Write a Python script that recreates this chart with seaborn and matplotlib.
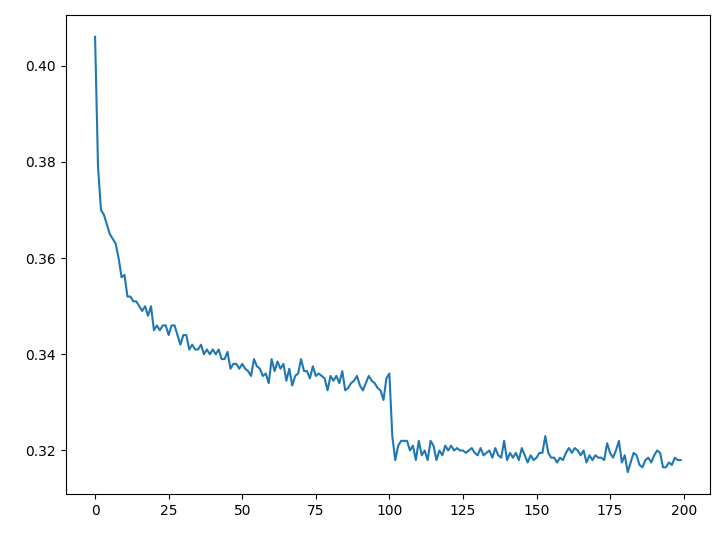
import numpy as np
import pandas as pd
import matplotlib
matplotlib.use("Agg")
import matplotlib.pyplot as plt
import seaborn as sns

# loss per epoch
loss_a = [0.406, 0.379, 0.370, 0.369, 0.367, 0.365, 0.364, 0.363, 0.360, 0.356,
          0.3565, 0.352, 0.352, 0.351, 0.351, 0.350, 0.349, 0.350, 0.348, 0.350,
          0.345, 0.346, 0.345, 0.346, 0.346, 0.344, 0.346, 0.346, 0.344, 0.342,
          0.344, 0.344, 0.341, 0.342, 0.341, 0.341, 0.342, 0.340, 0.341, 0.340,
          0.341, 0.340, 0.341, 0.339, 0.339, 0.3405, 0.337, 0.338, 0.338, 0.337,
          0.338, 0.337, 0.3365, 0.3355, 0.339, 0.3375, 0.337, 0.3355, 0.336, 0.334,
          0.339, 0.3365, 0.3385, 0.337, 0.338, 0.3345, 0.337, 0.3335, 0.3355, 0.336,
          0.339, 0.3365, 0.3365, 0.335, 0.3375, 0.3355, 0.336, 0.3355, 0.335, 0.3325,
          0.3355, 0.3345, 0.3355, 0.334, 0.3365, 0.3325, 0.333, 0.334, 0.3345, 0.3355,
          0.3335, 0.3325, 0.334, 0.3355, 0.3345, 0.334, 0.333, 0.3325, 0.3305, 0.335,
          0.336]
loss_b = [0.323, 0.318, 0.321, 0.322, 0.322, 0.322, 0.320, 0.321, 0.318,
          0.322, 0.319, 0.320, 0.318, 0.322, 0.321, 0.318, 0.320, 0.319, 0.321,
          0.320, 0.321, 0.320, 0.3205, 0.320, 0.320, 0.3195, 0.320, 0.3205, 0.3195,
          0.319, 0.3205, 0.319, 0.3195, 0.320, 0.3185, 0.3205, 0.319, 0.3185, 0.322,
          0.318, 0.3195, 0.3185, 0.3195, 0.318, 0.3205, 0.319, 0.3175, 0.319, 0.318,
          0.3185, 0.3195, 0.3195, 0.323, 0.3195, 0.3185, 0.3185, 0.3175, 0.3185, 0.318,
          0.3195, 0.3205, 0.3195, 0.3205, 0.320, 0.319, 0.320, 0.3175, 0.319, 0.318,
          0.319, 0.3185, 0.3185, 0.318, 0.3215, 0.3195, 0.3185, 0.320, 0.322, 0.3175,
          0.319, 0.3155, 0.3175, 0.3195, 0.319, 0.317, 0.3165, 0.318, 0.3185, 0.3175,
          0.319, 0.320, 0.3195, 0.3165, 0.3165, 0.3175, 0.317, 0.3185, 0.318, 0.318]
loss = loss_a + loss_b
epochs = np.arange(len(loss))

df = pd.DataFrame({"epoch": epochs, "loss": loss})

fig, ax = plt.subplots(figsize=(7.23, 5.38), dpi=100)
fig.subplots_adjust(left=0.091, right=0.982, top=0.972, bottom=0.082)
sns.lineplot(data=df, x="epoch", y="loss", ax=ax, color="tab:blue")
ax.set_xlabel("")
ax.set_ylabel("")
fig.savefig("out.png", dpi=100)
